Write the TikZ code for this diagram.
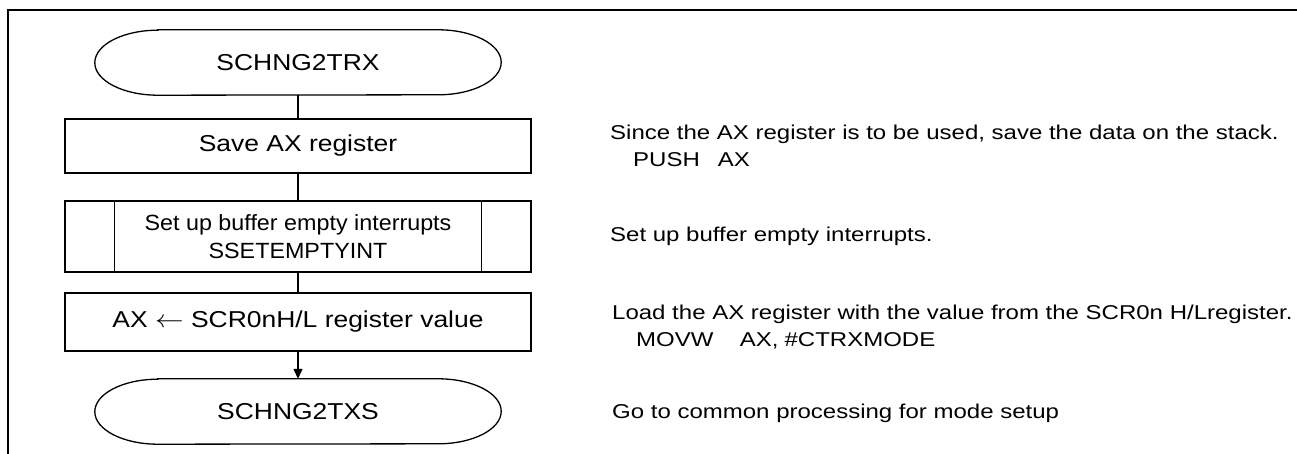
\documentclass[tikz,border=0pt]{standalone}
\usepackage{fontspec}
\setmainfont{Liberation Sans}
\usepackage{graphicx}
\usetikzlibrary{arrows.meta}
\newcommand{\LW}[1]{\scalebox{1.15}[1]{#1}}
\newcommand{\PW}[1]{\scalebox{1.06}[1]{#1}}
\newcommand{\RW}[1]{\scalebox{1.2}[1]{#1}}
\begin{document}
\begin{tikzpicture}[x=1pt,y=-1pt,
  shp/.style={line width=1.3pt},
  term/.style={minimum width=406pt, minimum height=65pt, inner sep=0pt, font=\fontsize{23}{28}\selectfont},
  proc/.style={draw, shp, minimum width=466pt, inner sep=0pt, align=center, font=\fontsize{23}{28}\selectfont},
  rtxt/.style={anchor=base west, inner sep=0pt, font=\fontsize{20}{26}\selectfont},
  conn/.style={line width=1.1pt}
]
\useasboundingbox (0,0) rectangle (1297,454);
\draw[line width=2pt] (1297,10) -- (8,10) -- (8,454);

% flowchart
\node[term] (t1) at (298,62.5) {\LW{SCHNG2TRX}};
\node[proc, minimum height=54pt] (p1) at (298,146) {\LW{Save AX register}};
\node[proc, minimum height=71pt, font=\fontsize{22}{28}\selectfont] (p2) at (298,236.5) {\PW{Set up buffer empty interrupts}\\\PW{SSETEMPTYINT}};
\node[proc, minimum height=58pt] (p3) at (298,322) {\LW{AX $\leftarrow$ SCR0nH/L register value}};
\node[term] (t2) at (298,411.5) {\LW{SCHNG2TXS}};

\draw[shp] ([xshift=50pt]p2.north west) -- ([xshift=50pt]p2.south west);
\draw[shp] ([xshift=-50pt]p2.north east) -- ([xshift=-50pt]p2.south east);

\foreach \t in {t1,t2}{
  \draw[shp] ([xshift=63pt]\t.north west) -- ([xshift=-63pt]\t.north east)
    arc[start angle=90, end angle=-90, x radius=63pt, y radius=32.5pt]
    -- ([xshift=63pt]\t.south west)
    arc[start angle=270, end angle=90, x radius=63pt, y radius=32.5pt] -- cycle;
}

\draw[conn] (t1) -- (p1);
\draw[conn] (p1) -- (p2);
\draw[conn] (p2) -- (p3);
\draw[conn, -{Triangle[length=10pt, width=9pt]}] (p3) -- (t2);

% comments
\node[rtxt] (c1) at (610,140) {\RW{Since the AX register is to be used, save the data on the stack.}};
\node[rtxt] (c1b) at (633,167) {\RW{PUSH\hspace{15pt}AX}};
\node[rtxt] (c2) at (610,241) {\RW{Set up buffer empty interrupts.}};
\node[rtxt] (c3) at (612,319) {\RW{Load the AX register with the value from the SCR0n H/Lregister.}};
\node[rtxt] (c3b) at (636,346) {\RW{MOVW\hspace{22pt}AX,\hspace{5pt}\#CTRXMODE}};
\node[rtxt] (c4) at (612,418) {\RW{Go to common processing for mode setup}};
\end{tikzpicture}
\end{document}
